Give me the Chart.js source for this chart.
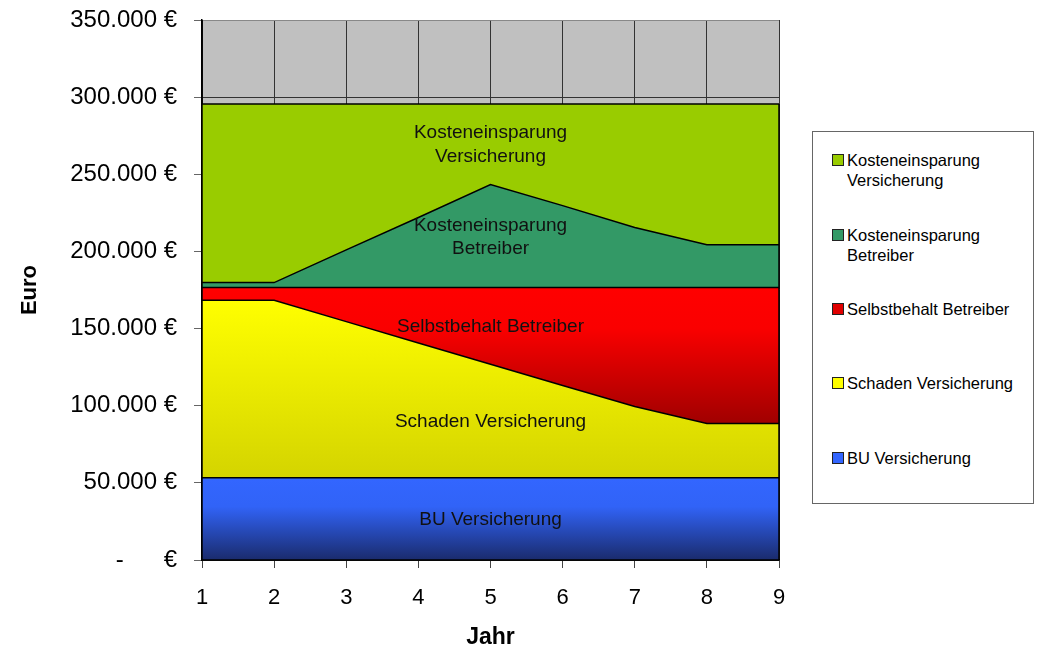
<!DOCTYPE html>
<html>
<head>
<meta charset="utf-8">
<script src="https://cdn.jsdelivr.net/npm/chart.js@4.4.1/dist/chart.umd.min.js"></script>
<style>
  body { margin: 0; background: #fff; }
  #wrap { position: relative; width: 1038px; height: 652px; }
  #legend {
    position: absolute; left: 812px; top: 131px; width: 220px; height: 371px;
    border: 1px solid #666; background: #fff;
    font-family: "Liberation Sans", Arial, sans-serif; font-size: 16.5px; color: #000;
  }
  .item { position: absolute; left: 34px; line-height: 20px; }
  .box { position: absolute; left: -15px; top: 4px; width: 10px; height: 10px; border: 1px solid #222; }
</style>
</head>
<body>
<div id="wrap">
  <canvas id="chart" width="1038" height="652"></canvas>
  <div id="legend"></div>
</div>
<script>
// years on the x axis
const years = ['1', '2', '3', '4', '5', '6', '7', '8', '9'];

// series values in euro, stacked bottom to top
const buVersicherung = [53300, 53300, 53300, 53300, 53300, 53300, 53300, 53300, 53300];
const schadenVersicherung = [115000, 115000, 101200, 87400, 73600, 59800, 46200, 35200, 35200];
const selbstbehaltBetreiber = [8300, 8300, 22100, 35900, 49700, 63500, 77100, 88100, 88100];
const kostenBetreiber = [3200, 3200, 24400, 45400, 66700, 53100, 38900, 27800, 27800];
const kostenVersicherung = [115800, 115800, 94600, 73600, 52300, 65900, 80100, 91200, 91200];

// y axis ticks
const yTicks = [0, 50000, 100000, 150000, 200000, 250000, 300000, 350000];

// labels written inside the areas (x = year index, y = euro)
const areaLabels = [
  { x: 4, y: 277000, text: 'Kosteneinsparung' },
  { x: 4, y: 261500, text: 'Versicherung' },
  { x: 4, y: 216800, text: 'Kosteneinsparung' },
  { x: 4, y: 201900, text: 'Betreiber' },
  { x: 4, y: 151300, text: 'Selbstbehalt Betreiber' },
  { x: 4, y: 89700, text: 'Schaden Versicherung' },
  { x: 4, y: 26200, text: 'BU Versicherung' }
];

const FONT = '"Liberation Sans", Arial, sans-serif';

// german number format 350.000 €
function euro(v) {
  if (v === 0) return '-      €';
  return String(v).replace(/\B(?=(\d{3})+(?!\d))/g, '.') + ' €';
}

// vertical gradient between two values of the y scale
function vGradient(stops, topVal, bottomVal) {
  return function(context) {
    const chart = context.chart;
    if (!chart.chartArea) return stops[0][1];
    const y = chart.scales.y;
    const g = chart.ctx.createLinearGradient(0, y.getPixelForValue(topVal), 0, y.getPixelForValue(bottomVal));
    stops.forEach(s => g.addColorStop(s[0], s[1]));
    return g;
  };
}

// gray plot background
const plotBg = {
  id: 'plotBg',
  beforeDraw(chart) {
    const a = chart.chartArea;
    const c = chart.ctx;
    c.save();
    c.fillStyle = '#c0c0c0';
    c.fillRect(a.left, a.top, a.right - a.left, a.bottom - a.top);
    c.restore();
  }
};

// black edges round the stacked areas + text labels
const areaDeco = {
  id: 'areaDeco',
  afterDatasetsDraw(chart) {
    const a = chart.chartArea;
    const c = chart.ctx;
    const last = chart.getDatasetMeta(chart.data.datasets.length - 1).data;
    c.save();
    c.strokeStyle = '#000';
    c.lineWidth = 1.5;
    c.beginPath();
    c.moveTo(a.left, a.top);
    c.lineTo(a.left, a.bottom);
    c.lineTo(a.right, a.bottom);
    c.lineTo(a.right, last[last.length - 1].y);
    c.stroke();

    c.fillStyle = '#111';
    c.font = '19px ' + FONT;
    c.textAlign = 'center';
    c.textBaseline = 'middle';
    areaLabels.forEach(l => {
      c.fillText(l.text, chart.scales.x.getPixelForValue(l.x), chart.scales.y.getPixelForValue(l.y));
    });
    c.restore();
  }
};

const series = [
  { label: 'BU Versicherung', data: buVersicherung, legend: '#3366ff',
    bg: vGradient([[0, '#3366ff'], [0.35, '#3163f7'], [1, '#1a2b6c']], 53300, 0) },
  { label: 'Schaden Versicherung', data: schadenVersicherung, legend: '#ffff00',
    bg: vGradient([[0, '#ffff00'], [1, '#d4d400']], 168300, 53300) },
  { label: 'Selbstbehalt Betreiber', data: selbstbehaltBetreiber, legend: '#e00000',
    bg: vGradient([[0, '#ff0000'], [0.3, '#fa0000'], [1, '#a00000']], 176600, 88500) },
  { label: 'Kosteneinsparung Betreiber', data: kostenBetreiber, legend: '#339966', bg: '#339966' },
  { label: 'Kosteneinsparung Versicherung', data: kostenVersicherung, legend: '#99cc00', bg: '#99cc00' }
];

const datasets = series.map((s, i) => ({
  label: s.label,
  data: s.data,
  backgroundColor: s.bg,
  borderColor: '#000',
  borderWidth: 1.5,
  pointRadius: 0,
  tension: 0,
  fill: i === 0 ? 'origin' : '-1'
}));

new Chart(document.getElementById('chart'), {
  type: 'line',
  data: { labels: years, datasets: datasets },
  plugins: [plotBg, areaDeco],
  options: {
    responsive: false,
    animation: false,
    layout: { padding: { left: 0, right: 259, top: 20, bottom: 0 } },
    plugins: { legend: { display: false }, tooltip: { enabled: false } },
    scales: {
      x: {
        offset: false,
        afterFit(scale) { scale.height = 92; },
        grid: { color: '#333', lineWidth: 1, tickLength: 8, tickColor: '#444' },
        border: { color: '#000', width: 1.5 },
        ticks: { color: '#000', font: { size: 22, family: FONT }, padding: 17, maxRotation: 0 },
        title: { display: true, text: 'Jahr', color: '#000', font: { size: 23, weight: 'bold', family: FONT }, padding: { top: 0, bottom: 1 } }
      },
      y: {
        stacked: true,
        min: 0,
        max: 350000,
        afterFit(scale) {
          scale.width = 202;
          // tick padding should not push the plot area down
          scale.paddingTop = 0;
          scale.paddingBottom = 0;
        },
        afterBuildTicks(scale) { scale.ticks = yTicks.map(v => ({ value: v })); },
        grid: {
          color: ctx => ctx.tick && ctx.tick.value === 350000 ? '#888' : '#333',
          lineWidth: 1, tickLength: 8, tickColor: '#666'
        },
        border: { color: '#000', width: 1.5 },
        ticks: { color: '#000', font: { size: 24, family: FONT }, padding: 17, callback: v => euro(v) },
        title: { display: true, text: 'Euro', color: '#000', font: { size: 22, weight: 'bold', family: FONT }, padding: { top: 17, bottom: 0 } }
      }
    }
  }
});

// legend, top to bottom like the stack
const legendRows = [
  { top: 18, lines: ['Kosteneinsparung', 'Versicherung'], color: '#99cc00' },
  { top: 93, lines: ['Kosteneinsparung', 'Betreiber'], color: '#339966' },
  { top: 167, lines: ['Selbstbehalt Betreiber'], color: '#e00000' },
  { top: 241, lines: ['Schaden Versicherung'], color: '#ffff00' },
  { top: 316, lines: ['BU Versicherung'], color: '#3366ff' }
];
const legendEl = document.getElementById('legend');
legendRows.forEach(r => {
  const d = document.createElement('div');
  d.className = 'item';
  d.style.top = r.top + 'px';
  d.innerHTML = '<span class="box" style="background:' + r.color + '"></span>' + r.lines.join('<br>');
  legendEl.appendChild(d);
});
</script>
</body>
</html>
